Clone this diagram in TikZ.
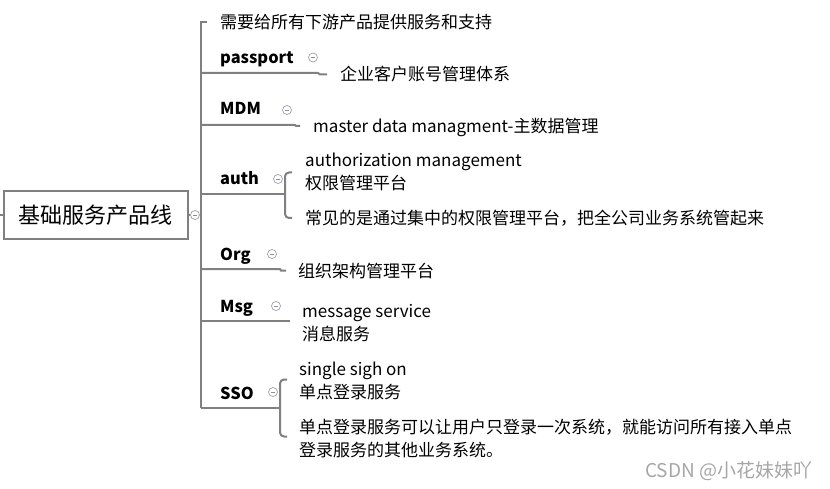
\documentclass[tikz,border=0pt]{standalone}
\usepackage{fontspec}
\setmainfont{Noto Sans CJK SC}
\definecolor{linegray}{HTML}{808080}
\definecolor{colgray}{HTML}{A0A0A0}
\definecolor{minusblue}{HTML}{7F8FB0}
\begin{document}
\begin{tikzpicture}[x=1pt,y=-1pt,
  txt/.style={anchor=west, inner sep=0pt, text height=15pt, text depth=1pt,
    font=\fontsize{17}{23}\selectfont},
  lbl/.style={txt, font=\bfseries\fontsize{16.4}{23}\selectfont},
  ln/.style={draw=linegray, line width=2pt},
  col/.style={circle, draw=colgray, line width=0.7pt, fill=white, inner sep=0pt, minimum size=9pt,
    path picture={\draw[minusblue, line width=0.8pt]
      ([xshift=-2.3pt]path picture bounding box.center) -- ([xshift=2.3pt]path picture bounding box.center);}},
  rootbox/.style={draw=linegray, line width=2pt, minimum width=184pt, minimum height=48pt,
    inner sep=0pt, font=\fontsize{22}{26}\selectfont}
]
\useasboundingbox (0,0) rectangle (830,489);

% root
\node[rootbox] (root) at (95.5,215) {基础服务产品线};
\coordinate (rstub) at (0,215);
\draw[ln] (rstub) -- (root.west);
\node[col] (rc) at (195,215) {};
\draw[ln] (root.east) -- (rc.west);

% trunk coordinates
\coordinate (ttop) at (201,22);
\coordinate (tbot) at (201,407.5);
\coordinate (ttopr) at (207,22);
\draw[ln] (ttopr) -- (ttop) -- (tbot);

% item 0
\node[txt] (t0) at (220,22) {需要给所有下游产品提供服务和支持};

% passport
\node[lbl] (pp) at (220,57) {passport};
\node[col] (ppc) at (313,57.5) {};
\coordinate (pp1) at (201,73);
\coordinate (pp2) at (318,73);
\coordinate (pp3) at (327,74.5);
\draw[ln] (pp1) -- (pp2) -- ([xshift=2pt]pp2 |- pp3) -- (pp3);
\node[txt] (ppt) at (340,74) {企业客户账号管理体系};

% MDM
\node[lbl] (mdm) at (220,108) {MDM};
\node[col] (mdmc) at (287,110) {};
\coordinate (m1) at (201,125);
\coordinate (m2) at (295,125);
\coordinate (m3) at (300,126);
\draw[ln] (m1) -- (m2) -- ([xshift=1pt]m2 |- m3) -- (m3);
\node[txt] (mdmt) at (313,126) {master data managment-主数据管理};

% auth
\node[lbl] (auth) at (220,178) {auth};
\node[col] (authc) at (278,179) {};
\coordinate (a1) at (201,194);
\coordinate (a2) at (285,194);
\coordinate (atop) at (292,172.5);
\coordinate (abot) at (292,218);
\draw[ln] (a1) -- (a2);
\draw[ln, rounded corners=4pt] (atop) -- (a2 |- atop) -- (a2 |- abot) -- (abot);
\node[txt] (auth1a) at (305,160) {authorization management};
\node[txt] (auth1b) at (305,183) {权限管理平台};
\node[txt] (auth2) at (305,218) {常见的是通过集中的权限管理平台，把全公司业务系统管起来};

% Org
\node[lbl] (org) at (220,253) {Org};
\node[col] (orgc) at (272,254) {};
\coordinate (o1) at (201,269);
\coordinate (o2) at (280,269);
\coordinate (o3) at (286,270.5);
\draw[ln] (o1) -- (o2) -- ([xshift=1pt]o2 |- o3) -- (o3);
\node[txt] (orgt) at (298,270) {组织架构管理平台};

% Msg
\node[lbl] (msg) at (220,305) {Msg};
\node[col] (msgc) at (276,306) {};
\coordinate (g1) at (201,321);
\coordinate (g2) at (290,321);
\draw[ln] (g1) -- (g2);
\node[txt] (msgta) at (302,310) {message service};
\node[txt] (msgtb) at (302,333) {消息服务};

% SSO
\node[lbl] (sso) at (220,392) {SSO};
\node[col] (ssoc) at (273,392) {};
\coordinate (s1) at (201,407.5);
\coordinate (s2) at (280,407.5);
\coordinate (stop) at (287,379.5);
\coordinate (sbot) at (287,436.5);
\draw[ln] (s1) -- (s2);
\draw[ln, rounded corners=4pt] (stop) -- (s2 |- stop) -- (s2 |- sbot) -- (sbot);
\node[txt] (sso1a) at (299,368) {single sigh on};
\node[txt] (sso1b) at (299,391) {单点登录服务};
\node[txt] (sso2a) at (299,426) {单点登录服务可以让用户只登录一次系统，就能访问所有接入单点};
\node[txt] (sso2b) at (299,449) {登录服务的其他业务系统。};

% watermark
\node[txt, text=gray!70, font=\fontsize{19}{21}\selectfont] (wm) at (645,470) {CSDN @小花妹妹吖};
\end{tikzpicture}
\end{document}
